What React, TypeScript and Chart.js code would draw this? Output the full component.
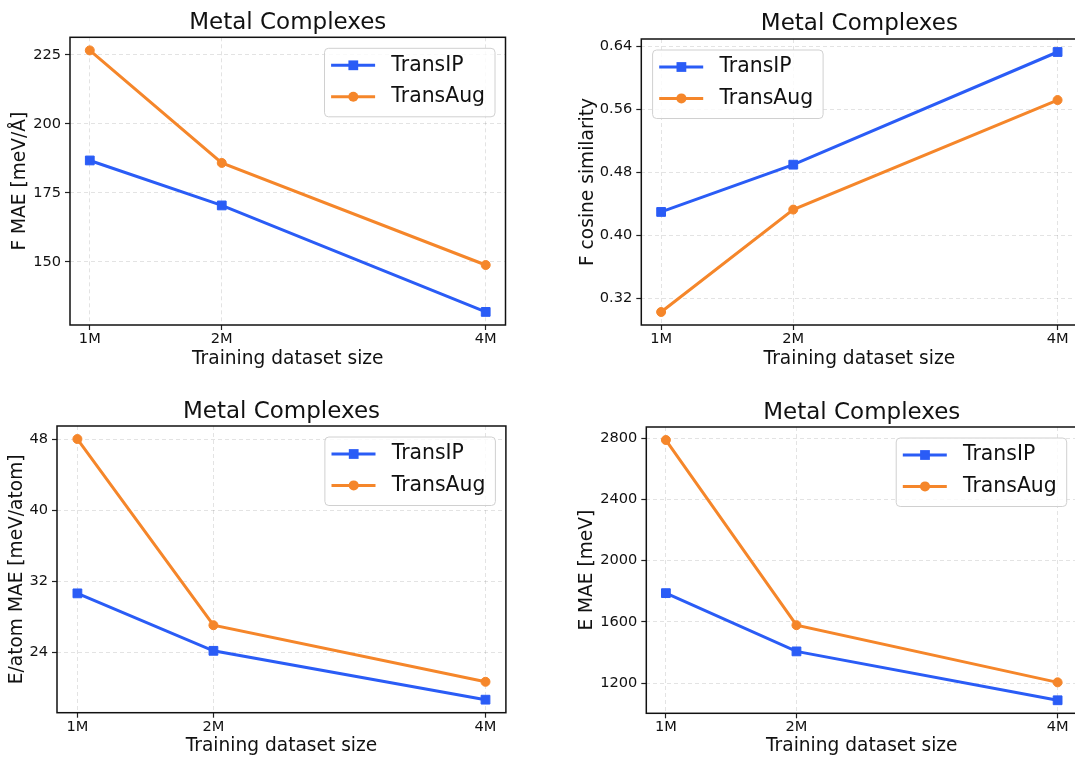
import React, { useEffect, useRef } from 'react';
import { Chart, registerables } from 'chart.js';

Chart.register(...registerables);

const FONT = "'DejaVu Sans', sans-serif";

// ---- data ----
const seriesNames = ['TransIP', 'TransAug'];
const seriesColors = ['#2A5CF6', '#F5862A'];
const seriesMarkers = ['rect', 'circle'];

const sizes = [1, 2, 4];
const sizeLabels = ['1M', '2M', '4M'];
const plotTitle = 'Metal Complexes';
const xAxisTitle = 'Training dataset size';

const fMaeTransIP = [186.7, 170.4, 131.8];
const fMaeTransAug = [226.6, 185.8, 148.8];
const fMaeTicks = [150, 175, 200, 225];

const fCosTransIP = [0.43, 0.49, 0.633];
const fCosTransAug = [0.303, 0.433, 0.572];
const fCosTicks = [0.32, 0.4, 0.48, 0.56, 0.64];

const eAtomTransIP = [30.65, 24.19, 18.7];
const eAtomTransAug = [48.0, 27.07, 20.71];
const eAtomTicks = [24, 32, 40, 48];

const eMaeTransIP = [1788, 1408, 1089];
const eMaeTransAug = [2787, 1579, 1206];
const eMaeTicks = [1200, 1600, 2000, 2400, 2800];

// ---- layout ----
const TITLE_SIZE = 23;
const AXIS_TITLE_SIZE = 18.6;
const TICK_SIZE = 14.6;
const LEGEND_SIZE = 20.4;

const panels = [
  {
    yTitle: 'F MAE [meV/Å]', series: [fMaeTransIP, fMaeTransAug], ticks: fMaeTicks, decimals: 0, corner: 'right',
    box: { left: 0, top: 0, width: 516, height: 370 }, padRight: 10.5, yW: 70, yTitlePad: 8.84,
    titlePad: { top: 9.2, bottom: 0.5 }, xH: 45,
  },
  {
    yTitle: 'F cosine similarity', series: [fCosTransIP, fCosTransAug], ticks: fCosTicks, decimals: 2, corner: 'left',
    box: { left: 560, top: 0, width: 528, height: 370 }, padRight: 10.6, yW: 81.3, yTitlePad: 16.84,
    titlePad: { top: 10.2, bottom: 1.2 }, xH: 45,
  },
  {
    yTitle: 'E/atom MAE [meV/atom]', series: [eAtomTransIP, eAtomTransAug], ticks: eAtomTicks, decimals: 0, corner: 'right',
    box: { left: 0, top: 385, width: 516, height: 372 }, padRight: 10.1, yW: 57, yTitlePad: 5.84,
    titlePad: { top: 13.4, bottom: 0 }, xH: 44.3,
  },
  {
    yTitle: 'E MAE [meV]', series: [eMaeTransIP, eMaeTransAug], ticks: eMaeTicks, decimals: 0, corner: 'right',
    box: { left: 560, top: 385, width: 528, height: 372 }, padRight: 10.8, yW: 86.3, yTitlePad: 16.34,
    titlePad: { top: 14.2, bottom: 0.2 }, xH: 43.7,
  },
];

const frameAndLegend = {
  id: 'frameAndLegend',
  afterDraw(chart: any, _args: any, opts: any) {
    const { ctx, chartArea: ca } = chart;
    ctx.save();
    ctx.strokeStyle = '#111';
    ctx.lineWidth = 1.5;
    ctx.strokeRect(ca.left, ca.top, ca.right - ca.left, ca.bottom - ca.top);

    const boxW = 170.5;
    const boxH = 68.5;
    const x0 = opts.corner === 'left' ? ca.left + 11.3 : ca.right - 10.5 - boxW;
    const y0 = ca.top + 11;
    ctx.beginPath();
    ctx.roundRect(x0, y0, boxW, boxH, 4);
    ctx.fillStyle = 'rgba(255,255,255,0.8)';
    ctx.fill();
    ctx.strokeStyle = '#d0d0d0';
    ctx.lineWidth = 1;
    ctx.stroke();

    chart.data.datasets.forEach((ds: any, i: number) => {
      const y = y0 + 17 + i * 31.4;
      ctx.strokeStyle = ds.borderColor;
      ctx.lineWidth = ds.borderWidth;
      ctx.beginPath();
      ctx.moveTo(x0 + 6.6, y);
      ctx.lineTo(x0 + 50.6, y);
      ctx.stroke();
      ctx.fillStyle = ds.backgroundColor;
      const mx = x0 + 28.8;
      if (ds.pointStyle === 'rect') {
        const s = ds.pointRadius * Math.SQRT1_2 + 0.5;
        ctx.fillRect(mx - s, y - s, 2 * s, 2 * s);
      } else {
        ctx.beginPath();
        ctx.arc(mx, y, ds.pointRadius + 0.5, 0, Math.PI * 2);
        ctx.fill();
      }
      ctx.fillStyle = '#111';
      ctx.font = `${LEGEND_SIZE}px ${FONT}`;
      ctx.textBaseline = 'middle';
      ctx.textAlign = 'left';
      ctx.fillText(ds.label, x0 + 66.8, y);
    });
    ctx.restore();
  },
};

function Panel({ cfg }: { cfg: any }) {
  const ref = useRef<HTMLCanvasElement | null>(null);
  useEffect(() => {
    const allY = [...cfg.series[0], ...cfg.series[1]];
    const yMin = Math.min(...allY);
    const yMax = Math.max(...allY);
    const yPad = (yMax - yMin) * 0.05;
    const xMin = Math.min(...sizes);
    const xMax = Math.max(...sizes);
    const xPad = (xMax - xMin) * 0.05;

    const gridCommon = {
      color: 'rgba(0,0,0,0.11)',
      lineWidth: 1,
      drawTicks: true,
      tickLength: 5,
      tickColor: '#222',
      tickWidth: 1.2,
      tickBorderDash: [],
    };
    const borderCommon = { display: false, dash: [4, 3] };

    const chart = new Chart(ref.current as HTMLCanvasElement, {
      type: 'line',
      data: {
        datasets: seriesNames.map((name, i) => ({
          label: name,
          data: sizes.map((x, j) => ({ x, y: cfg.series[i][j] })),
          borderColor: seriesColors[i],
          backgroundColor: seriesColors[i],
          borderWidth: 3,
          pointStyle: seriesMarkers[i],
          pointRadius: i === 0 ? 6.2 : 4.5,
          pointBorderWidth: 1,
          pointBorderColor: seriesColors[i],
          tension: 0,
          clip: false,
        })),
      },
      options: {
        animation: false,
        responsive: false,
        devicePixelRatio: 1,
        events: [],
        layout: { padding: { left: 0, right: cfg.padRight, top: 0, bottom: 0 } },
        plugins: {
          legend: { display: false },
          tooltip: { enabled: false },
          title: {
            display: true,
            text: plotTitle,
            fullSize: false,
            color: '#111',
            font: { family: FONT, size: TITLE_SIZE, weight: 'normal', lineHeight: 1.2 },
            padding: cfg.titlePad,
          },
          frameAndLegend: { corner: cfg.corner },
        } as any,
        scales: {
          x: {
            type: 'linear',
            min: xMin - xPad,
            max: xMax + xPad,
            bounds: 'data',
            afterFit: (s: any) => { s.height = cfg.xH; },
            afterBuildTicks: (s: any) => { s.ticks = sizes.map((v) => ({ value: v })); },
            ticks: {
              autoSkip: false,
              maxRotation: 0,
              padding: 0.5,
              color: '#111',
              font: { family: FONT, size: TICK_SIZE, lineHeight: 1.2 },
              callback: (v: any) => sizeLabels[sizes.indexOf(Number(v))] ?? '',
            },
            grid: gridCommon,
            border: borderCommon,
            title: {
              display: true,
              text: xAxisTitle,
              color: '#111',
              font: { family: FONT, size: AXIS_TITLE_SIZE, lineHeight: 1.2 },
              padding: { top: 0, bottom: 0 },
            },
          },
          y: {
            type: 'linear',
            min: yMin - yPad,
            max: yMax + yPad,
            bounds: 'data',
            afterFit: (s: any) => { s.width = cfg.yW; },
            afterBuildTicks: (s: any) => { s.ticks = cfg.ticks.map((v: number) => ({ value: v })); },
            ticks: {
              autoSkip: false,
              padding: 4,
              color: '#111',
              font: { family: FONT, size: TICK_SIZE, lineHeight: 1.2 },
              callback: (v: any) => Number(v).toFixed(cfg.decimals),
            },
            grid: gridCommon,
            border: borderCommon,
            title: {
              display: true,
              text: cfg.yTitle,
              color: '#111',
              font: { family: FONT, size: AXIS_TITLE_SIZE, lineHeight: 1.2 },
              padding: { top: cfg.yTitlePad, bottom: 0 },
            },
          },
        } as any,
      },
      plugins: [frameAndLegend],
    } as any);
    return () => chart.destroy();
  }, [cfg]);

  return (
    <canvas
      ref={ref}
      width={cfg.box.width}
      height={cfg.box.height}
      style={{ position: 'absolute', left: cfg.box.left, top: cfg.box.top, width: cfg.box.width, height: cfg.box.height }}
    />
  );
}

export default function App() {
  return (
    <div
      style={{
        position: 'fixed',
        left: 0,
        top: 0,
        width: 1075,
        height: 757,
        overflow: 'hidden',
        background: '#ffffff',
      }}
    >
      {panels.map((p, i) => (
        <Panel key={i} cfg={p} />
      ))}
    </div>
  );
}
